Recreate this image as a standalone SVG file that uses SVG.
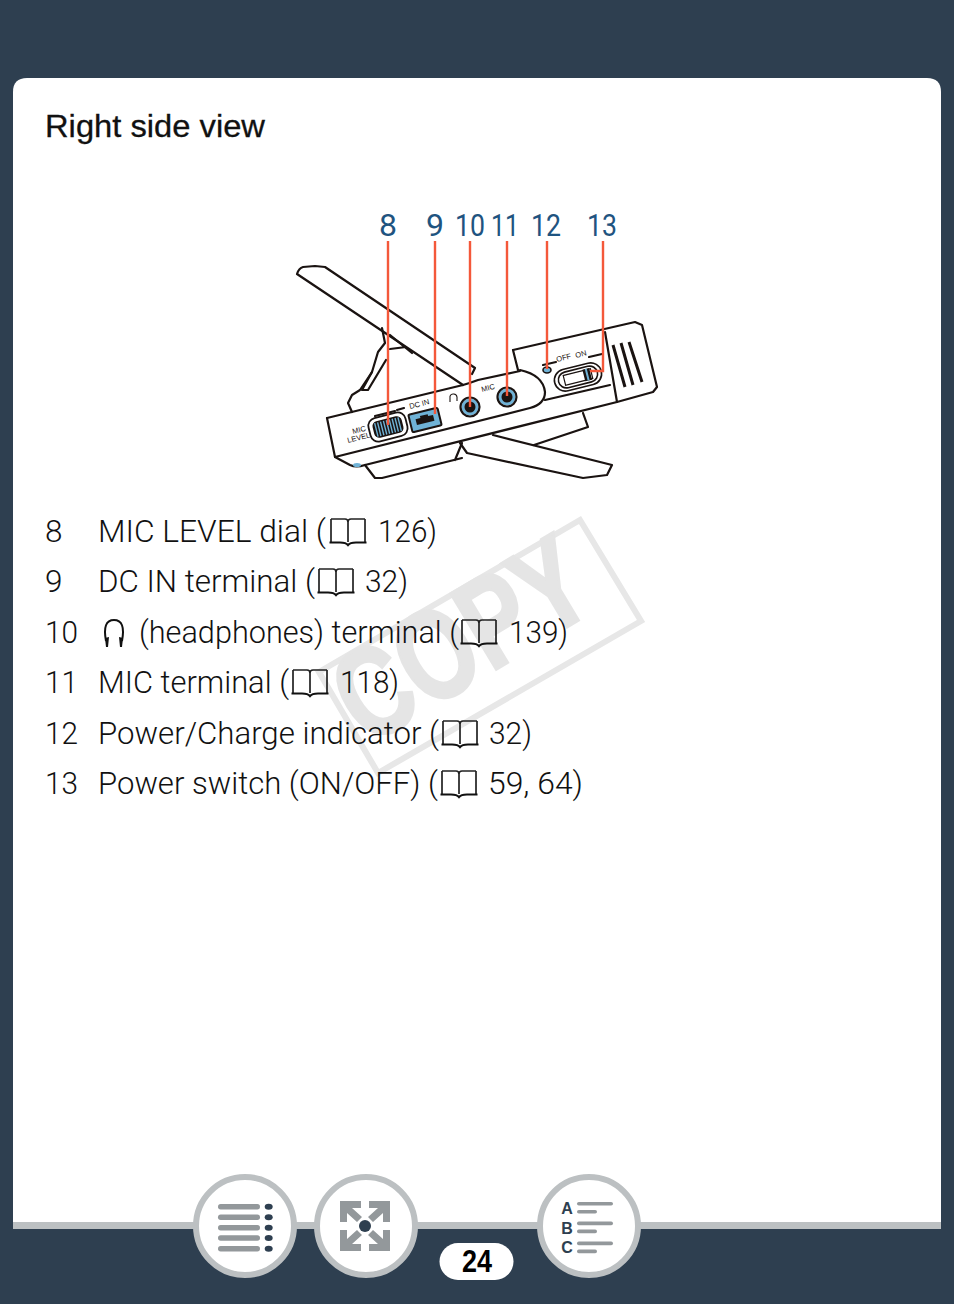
<svg xmlns="http://www.w3.org/2000/svg" width="954" height="1304" viewBox="0 0 954 1304">
<style>
.t{font-family:"Roboto","Liberation Sans",sans-serif;font-weight:300;font-size:31.5px;fill:#111}
.n{font-family:"Roboto","Liberation Sans",sans-serif;font-weight:400;font-size:32px;fill:#1f5480}
.l{fill:none;stroke:#1a1311;stroke-width:2.2;stroke-linejoin:round;stroke-linecap:round}
.r{fill:none;stroke:#f4583a;stroke-width:2.4}
.s{font-family:"Liberation Sans",sans-serif;font-size:7.5px;fill:#1a1311}
.g{fill:#93989b}
.d{fill:#2e3f50}
.c{fill:#fff;stroke:#bcc0c2;stroke-width:6}
.j{fill:#1a1311;stroke:#6fb2d6;stroke-width:3}
.k{fill:none;stroke:#1a1311;stroke-width:2.2}
</style>
<defs>
<g id="book"><path d="M2 0H16Q19 0 19 3V23M36 0H22Q19 0 19 3M36 0V23M2 0V23" fill="none" stroke="#222" stroke-width="1.7"/><path d="M0.500 23.500H11Q17 23.500 19 26Q21 23.500 27 23.500H37.500" fill="none" stroke="#111" stroke-width="2.2"/></g>
<polygon id="arr" class="g" points="-25,-25 -4,-25 -4,-18 -13,-18 -3,-9 -8,-4 -18,-13 -18,-4 -25,-4"/>
</defs>
<rect width="954" height="1304" fill="#2e3f50"/>
<path d="M13 1222V92Q13 78 27 78H927Q941 78 941 92V1222Z" fill="#fff"/>
<g id="watermark">
<polygon points="580,520 641,621 378,773 319,672" fill="none" stroke="#e7e7e7" stroke-width="6"/>
<text transform="translate(367,747) rotate(-31)" font-family="Liberation Sans,sans-serif" font-weight="700" font-size="128" fill="#e5e5e5" stroke="#e5e5e5" stroke-width="3" textLength="272" lengthAdjust="spacingAndGlyphs">COPY</text>
</g>
<text id="title" x="45" y="137" font-family="Liberation Sans,sans-serif" font-size="31.5" fill="#111" stroke="#111" stroke-width=".3" textLength="220" lengthAdjust="spacingAndGlyphs">Right side view</text>

<g id="camera">
<path class="l" d="M463 385L297 274Q299 268 303 267L315 266L325 267L475 368L472 374"/>
<path class="l" d="M382 328L385 343L378 352L372 372L360 390L352 395L348 403L352 412"/>
<path class="l" d="M372 372L362 390L368 390L386 360M390 349L406 347M390 335L412 353"/>
<path class="l" d="M327 418L463 385Q470 383 478 380L520 371"/>
<path class="l" d="M327 418L335 457L530 408Q545 404 545 392Q543 375 520 370"/>
<path class="l" d="M513 350L635 322L642 325L657 387L653 392L617 402L365 465Q356 468 350 465L335 457"/>
<path class="l" d="M513 350L518 370M605 332L617 402M545 400L610 385M543 365L556 362M589 357L602 354"/>
<ellipse cx="357" cy="465" rx="4" ry="2" fill="#6fb2d6"/>
<path class="l" d="M365 465L375 478L382 478L462 458M462 443L455 460"/>
<path class="l" d="M460 443L467 453L583 478L607 475L612 465L493 435"/>
<path class="l" d="M583 413L588 427L534 445"/>
<path d="M613 345L625 387M621 343L633 385M629 342L642 382" fill="none" stroke="#1a1311" stroke-width="3"/>
<g transform="translate(388,427) rotate(-14)"><rect x="-19" y="-12" width="38" height="24" rx="8" fill="#fff" stroke="#1a1311" stroke-width="1.8"/><rect x="-15" y="-8.500" width="30" height="17" rx="5" fill="#1a1311"/><path d="M-12-7V7M-9-7V7M-6-7V7M-3-7V7M0-7V7M3-7V7M6-7V7M9-7V7M12-7V7" stroke="#6fb2d6" stroke-width="1.4"/></g>
<path class="l" d="M375 416L395 411M397 410L404 408"/>
<g transform="translate(425,420) rotate(-14)"><rect x="-15" y="-9" width="30" height="18" rx="1.500" fill="#6fb2d6" stroke="#1a1311" stroke-width="2"/><path d="M-9 -3H-4V-5H4V-3H9V3H-9Z" fill="#1a1311"/></g>
<circle class="j" cx="470" cy="407" r="7"/><circle class="k" cx="470" cy="407" r="9.500"/>
<circle class="j" cx="507" cy="397" r="7"/><circle class="k" cx="507" cy="397" r="9.500"/>
<path d="M450 402V398A3.500 3.500 0 0 1 457 397V401" fill="none" stroke="#1a1311" stroke-width="1.1"/>
<ellipse cx="547" cy="370" rx="4" ry="3" fill="#6fb2d6" stroke="#1a1311" stroke-width="1.600"/>
<g transform="translate(578,377) rotate(-14)"><rect x="-24" y="-11" width="48" height="22" rx="11" fill="#fff" stroke="#1a1311" stroke-width="1.6"/><rect x="-20" y="-8" width="40" height="16" rx="8" fill="none" stroke="#1a1311" stroke-width="1.6"/><rect x="-14" y="-5" width="28" height="10" fill="#fff" stroke="#1a1311" stroke-width="1.2"/><rect x="6" y="-6" width="7" height="12" fill="#1a1311"/><path d="M9.500-6V6" stroke="#6fb2d6" stroke-width="2"/></g>
<text class="s" transform="translate(348,443) rotate(-14)">LEVEL</text>
<text class="s" transform="translate(353,434) rotate(-14)">MIC</text>
<text class="s" transform="translate(410,409) rotate(-14)">DC IN</text>
<text class="s" transform="translate(482,392) rotate(-14)">MIC</text>
<text class="s" transform="translate(557,362) rotate(-14)">OFF</text>
<text class="s" transform="translate(576,358) rotate(-14)">ON</text>
</g>
<g id="connectors">
<path class="r" d="M388 241V425"/>
<path class="r" d="M435 241V414"/>
<path class="r" d="M470 241V407"/>
<path class="r" d="M507 241V396"/>
<path class="r" d="M547 241V369"/>
<path class="r" d="M603 241V371H590"/>
</g>
<g id="callouts">
<text class="n" x="379" y="236">8</text>
<text class="n" x="426" y="236">9</text>
<text class="n" x="455" y="236" textLength="30" lengthAdjust="spacingAndGlyphs">10</text>
<text class="n" x="491" y="236" textLength="28" lengthAdjust="spacingAndGlyphs">11</text>
<text class="n" x="531" y="236" textLength="30" lengthAdjust="spacingAndGlyphs">12</text>
<text class="n" x="587" y="236" textLength="30" lengthAdjust="spacingAndGlyphs">13</text>
</g>
<g id="list">
<text class="t" x="45" y="542">8</text><text class="t" x="98" y="542" textLength="228" lengthAdjust="spacingAndGlyphs">MIC LEVEL dial (</text><use href="#book" x="329" y="519"/><text class="t" x="378" y="542" textLength="59" lengthAdjust="spacingAndGlyphs">126)</text>
<text class="t" x="45" y="592">9</text><text class="t" x="98" y="592" textLength="217" lengthAdjust="spacingAndGlyphs">DC IN terminal (</text><use href="#book" x="317" y="569"/><text class="t" x="365" y="592" textLength="43" lengthAdjust="spacingAndGlyphs">32)</text>
<text class="t" x="45" y="643" textLength="33" lengthAdjust="spacingAndGlyphs">10</text><g id="phones"><path d="M106 641Q102 620 114 620Q126 620 122 641" fill="none" stroke="#111" stroke-width="2"/><path d="M105 638L109 637L108 647H106ZM123 638L119 637L120 647H122Z" fill="#111"/></g><text class="t" x="139" y="643" textLength="320" lengthAdjust="spacingAndGlyphs">(headphones) terminal (</text><use href="#book" x="460" y="620"/><text class="t" x="509" y="643" textLength="59" lengthAdjust="spacingAndGlyphs">139)</text>
<text class="t" x="45" y="693" textLength="33" lengthAdjust="spacingAndGlyphs">11</text><text class="t" x="98" y="693" textLength="191" lengthAdjust="spacingAndGlyphs">MIC terminal (</text><use href="#book" x="291" y="670"/><text class="t" x="340" y="693" textLength="59" lengthAdjust="spacingAndGlyphs">118)</text>
<text class="t" x="45" y="744" textLength="33" lengthAdjust="spacingAndGlyphs">12</text><text class="t" x="98" y="744" textLength="341" lengthAdjust="spacingAndGlyphs">Power/Charge indicator (</text><use href="#book" x="441" y="721"/><text class="t" x="489" y="744" textLength="43" lengthAdjust="spacingAndGlyphs">32)</text>
<text class="t" x="45" y="794" textLength="33" lengthAdjust="spacingAndGlyphs">13</text><text class="t" x="98" y="794" textLength="340" lengthAdjust="spacingAndGlyphs">Power switch (ON/OFF) (</text><use href="#book" x="440" y="771"/><text class="t" x="488" y="794" textLength="95" lengthAdjust="spacingAndGlyphs">59, 64)</text>
</g>
<rect id="footer-bar" x="13" y="1222" width="928" height="7" fill="#bcc0c2"/>
<g id="btn-contents">
<circle class="c" cx="245" cy="1226" r="49"/>
<rect class="g" x="218" y="1204" width="42" height="5.400" rx="2.700"/><rect class="g" x="218" y="1214.600" width="42" height="5.400" rx="2.700"/><rect class="g" x="218" y="1225" width="42" height="5.400" rx="2.700"/><rect class="g" x="218" y="1235.300" width="42" height="5.400" rx="2.700"/><rect class="g" x="218" y="1246" width="42" height="5.400" rx="2.700"/>
<ellipse class="d" cx="268.700" cy="1206.700" rx="4" ry="3"/><ellipse class="d" cx="268.700" cy="1217.300" rx="4" ry="3"/><ellipse class="d" cx="268.700" cy="1227.700" rx="4" ry="3"/><ellipse class="d" cx="268.700" cy="1238" rx="4" ry="3"/><ellipse class="d" cx="268.700" cy="1248.700" rx="4" ry="3"/>
</g>
<g id="btn-expand">
<circle class="c" cx="366" cy="1226" r="49"/>
<use href="#arr" transform="translate(365,1226)"/><use href="#arr" transform="translate(365,1226) scale(-1,1)"/><use href="#arr" transform="translate(365,1226) scale(1,-1)"/><use href="#arr" transform="translate(365,1226) scale(-1,-1)"/>
<circle class="d" cx="365" cy="1226" r="6"/>
</g>
<g id="btn-index">
<circle class="c" cx="589" cy="1226" r="49"/>
<g font-family="Liberation Sans,sans-serif" font-weight="700" font-size="16" fill="#2e3f50" text-anchor="middle"><text x="567" y="1214">A</text><text x="567" y="1234">B</text><text x="567" y="1253">C</text></g>
<g class="g"><rect x="577" y="1202" width="36" height="3.600" rx="1.800"/><rect x="577" y="1210" width="20" height="3.600" rx="1.800"/><rect x="577" y="1221.600" width="36" height="3.600" rx="1.800"/><rect x="577" y="1229.600" width="20" height="3.600" rx="1.800"/><rect x="577" y="1241.600" width="36" height="3.600" rx="1.800"/><rect x="577" y="1249.600" width="20" height="3.600" rx="1.800"/></g>
</g>
<g id="page">
<rect x="439.500" y="1243" width="74" height="37" rx="18.500" fill="#fff"/>
<text x="462" y="1272" font-family="Liberation Sans,sans-serif" font-weight="700" font-size="32" fill="#000" textLength="30" lengthAdjust="spacingAndGlyphs">24</text>
</g>
</svg>
